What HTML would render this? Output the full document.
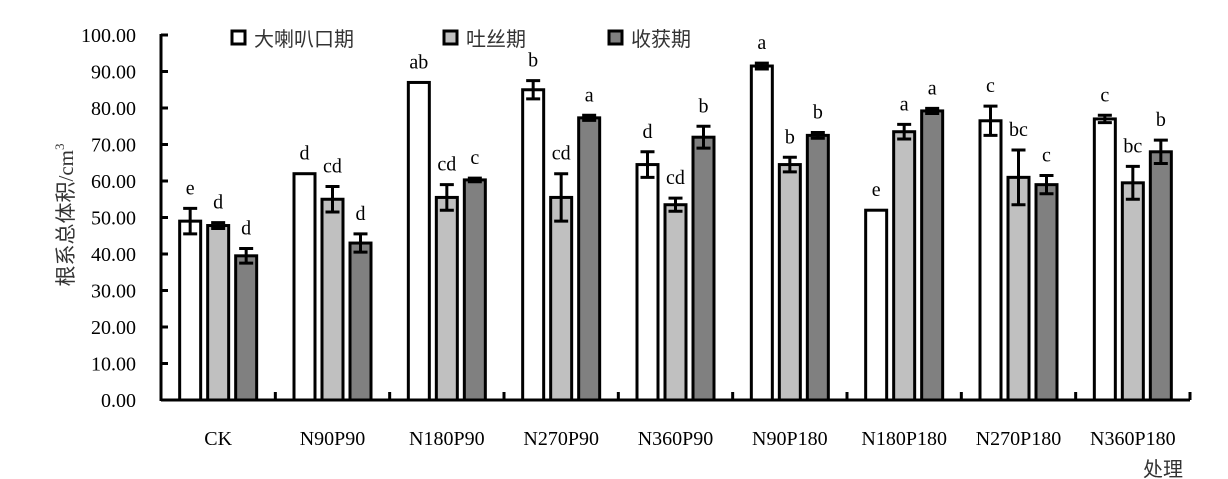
<!DOCTYPE html>
<html><head><meta charset="utf-8"><style>
body{margin:0;background:#fff;}
svg{display:block;font-family:"Liberation Serif","Noto Serif CJK SC",serif;}
</style></head><body>
<svg id="chart" width="1228" height="479" viewBox="0 0 1228 479" xmlns="http://www.w3.org/2000/svg">
<g id="yaxis"></g>
<g id="bars"></g>
<g id="xaxis"></g>
<text transform="translate(73,215) rotate(-90)" text-anchor="middle" font-size="21" fill="#333" font-family="'Liberation Serif','Noto Sans CJK SC',serif">根系总体积/cm<tspan font-size="13" dy="-9">3</tspan></text>
<text x="1163" y="476" text-anchor="middle" font-size="20" fill="#333" font-family="'Liberation Serif','Noto Sans CJK SC',serif">处理</text>
<g font-size="20" fill="#333" font-family="'Liberation Serif','Noto Sans CJK SC',serif">
<rect x="232" y="31" width="13" height="13" fill="#fff" stroke="#000" stroke-width="3"/>
<text x="254" y="46">大喇叭口期</text>
<rect x="444" y="31" width="13" height="13" fill="#c0c0c0" stroke="#000" stroke-width="3"/>
<text x="466" y="46">吐丝期</text>
<rect x="609" y="31" width="13" height="13" fill="#808080" stroke="#000" stroke-width="3"/>
<text x="631" y="46">收获期</text>
</g>
</svg>
<script>
const categories=["CK","N90P90","N180P90","N270P90","N360P90","N90P180","N180P180","N270P180","N360P180"];
const seriesNames=["大喇叭口期","吐丝期","收获期"];
const s1=[49,62,87,85,64.5,91.5,52,76.5,77];
const s2=[47.8,55,55.5,55.5,53.5,64.5,73.5,61,59.5];
const s3=[39.5,43,60.3,77.3,72,72.5,79.2,59,68];
const e1=[3.5,0,0,2.5,3.5,0.8,0,4,1];
const e2=[0.8,3.5,3.5,6.5,1.8,2,2,7.5,4.5];
const e3=[2,2.5,0.5,0.7,3,0.8,0.7,2.5,3.2];
const l1=["e","d","ab","b","d","a","e","c","c"];
const l2=["d","cd","cd","cd","cd","b","a","bc","bc"];
const l3=["d","d","c","a","b","b","a","c","b"];
const yTicks=[0,10,20,30,40,50,60,70,80,90,100];
const NS="http://www.w3.org/2000/svg";
const x0=161,x1=1190,y0=400,yTop=35;
const y=v=>y0-(v/100)*(y0-yTop);
const bw=(x1-x0)/categories.length;
const xc=i=>x0+bw*(i+0.5);
function mk(tag,attrs,parent){const e=document.createElementNS(NS,tag);for(const k in attrs)e.setAttribute(k,attrs[k]);parent.appendChild(e);return e;}
const ya=document.getElementById('yaxis'),xa=document.getElementById('xaxis'),bg=document.getElementById('bars');
yTicks.forEach(t=>{
 const l=mk('line',{x1:x0,x2:x0+7,y1:y(t),y2:y(t),stroke:'#000','stroke-width':3},ya);
 
 
 const tx=mk('text',{x:136,y:y(t)+7,'text-anchor':'end','font-size':20,fill:'#000'},ya);
 tx.textContent=t.toFixed(2);
 
 
});
const ax=mk('line',{x1:x0,x2:x0,y1:yTop-1,y2:y0+1,stroke:'#000','stroke-width':3},ya);


const xl=mk('line',{x1:x0,x2:x1,y1:y0,y2:y0,stroke:'#000','stroke-width':3},xa);


for(let k=1;k<=categories.length;k++){
 const t=mk('line',{x1:x0+bw*k,x2:x0+bw*k,y1:y0,y2:y0-8,stroke:'#000','stroke-width':3},xa);
 
 
}
const series=[s1,s2,s3],errs=[e1,e2,e3],lets=[l1,l2,l3],fills=['#fff','#c0c0c0','#808080'];
categories.forEach((c,i)=>{
 const tx=mk('text',{x:xc(i),y:445,'text-anchor':'middle','font-size':20,fill:'#000'},xa);
 tx.textContent=c;
 
 
 series.forEach((s,j)=>{
  const cx=xc(i)+(j-1)*28, v=s[i], er=errs[j][i];
  const r=mk('rect',{x:cx-10.5,y:y(v),width:21,height:y0-y(v),fill:fills[j],stroke:'#000','stroke-width':3},bg);
  
  
  let top=y(v);
  if(er>0){
   const g=mk('path',{d:`M${cx-7},${y(v+er)}H${cx+7}M${cx-7},${y(v-er)}H${cx+7}M${cx},${y(v+er)}V${y(v-er)}`,stroke:'#000','stroke-width':3,fill:'none'},bg);
   
   
   top=y(v+er);
  }
  const lt=mk('text',{x:cx,y:top-14,'text-anchor':'middle','font-size':20,fill:'#000'},bg);
  lt.textContent=lets[j][i];
  
  
 });
});
</script>
</body></html>
